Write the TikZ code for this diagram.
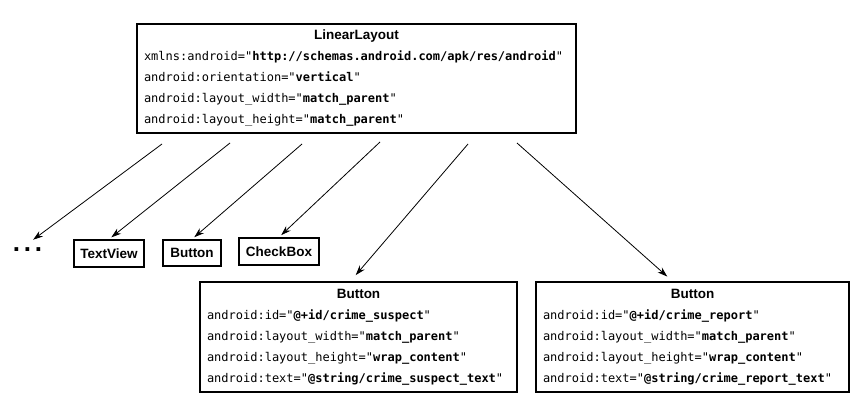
\documentclass[tikz,border=0pt]{standalone}
\usepackage{fontspec}
\setmainfont{Liberation Sans}
\newfontfamily\codefont{DejaVu Sans Mono}
\usetikzlibrary{arrows.meta}
\tikzset{>={Stealth[length=10pt,width=6.5pt]}}
\tikzset{%
    viewbox/.style={%
        draw, line width=1.6pt, inner sep=0pt,
        font=\fontsize{13.5}{16}\selectfont\bfseries
    },
    attrbox/.style={%
        draw, line width=1.6pt, inner xsep=7pt, inner ysep=5pt,
        minimum height=109pt, align=left, text width=#1,
        font=\fontsize{12}{21}\codefont
    },
    child/.style={->, line width=0.8pt, shorten >=3pt}
}
\newcommand{\boxtitle}[1]{\makebox[\linewidth]{\fontsize{13.5}{21}\selectfont\rmfamily\bfseries #1}}
\newcommand{\attr}[2]{#1="\textbf{#2}"}

\begin{document}
\begin{tikzpicture}[x=1pt,y=-1pt]
    \useasboundingbox (0,0) rectangle (861,412);
    % parent
    \node[attrbox=425pt] (linear) at (356.5,78.5) {\boxtitle{LinearLayout}\\
        \attr{xmlns:android}{http://schemas.android.com/apk/res/android}\\
        \attr{android:orientation}{vertical}\\
        \attr{android:layout\_width}{match\_parent}\\
        \attr{android:layout\_height}{match\_parent}};
    % children
    \node[font=\fontsize{26}{26}\selectfont\bfseries, inner sep=3pt, anchor=base] (more) at (27.5,251) {.\kern3.8pt.\kern3.8pt.};
    \node[viewbox, minimum width=70pt, minimum height=27pt] (textview) at (109,253.5) {TextView};
    \node[viewbox, minimum width=58pt, minimum height=26pt] (button) at (192,253) {Button};
    \node[viewbox, minimum width=80pt, minimum height=27pt] (checkbox) at (279,251.5) {CheckBox};
    \node[attrbox=303pt, minimum height=110pt] (suspect) at (358.5,337) {\boxtitle{Button}\\
        \attr{android:id}{@+id/crime\_suspect}\\
        \attr{android:layout\_width}{match\_parent}\\
        \attr{android:layout\_height}{wrap\_content}\\
        \attr{android:text}{@string/crime\_suspect\_text}};
    \node[attrbox=299pt, minimum height=110pt] (report) at (692.5,337) {\boxtitle{Button}\\
        \attr{android:id}{@+id/crime\_report}\\
        \attr{android:layout\_width}{match\_parent}\\
        \attr{android:layout\_height}{wrap\_content}\\
        \attr{android:text}{@string/crime\_report\_text}};
    % arrows
    \coordinate (s1) at (162,144);
    \coordinate (s2) at (230,143);
    \coordinate (s3) at (302,144);
    \coordinate (s4) at (380,142);
    \coordinate (s5) at (468,144);
    \coordinate (s6) at (517,143);
    \draw[child, shorten >=7pt] (s1) -- (more.north);
    \draw[child] (s2) -- (textview.north);
    \draw[child] (s3) -- (button.north);
    \draw[child] (s4) -- (checkbox.north);
    \draw[child, shorten >=8pt] (s5) -- ([xshift=-8pt]suspect.north);
    \draw[child, shorten >=7pt] (s6) -- ([xshift=-20pt]report.north);
\end{tikzpicture}
\end{document}
